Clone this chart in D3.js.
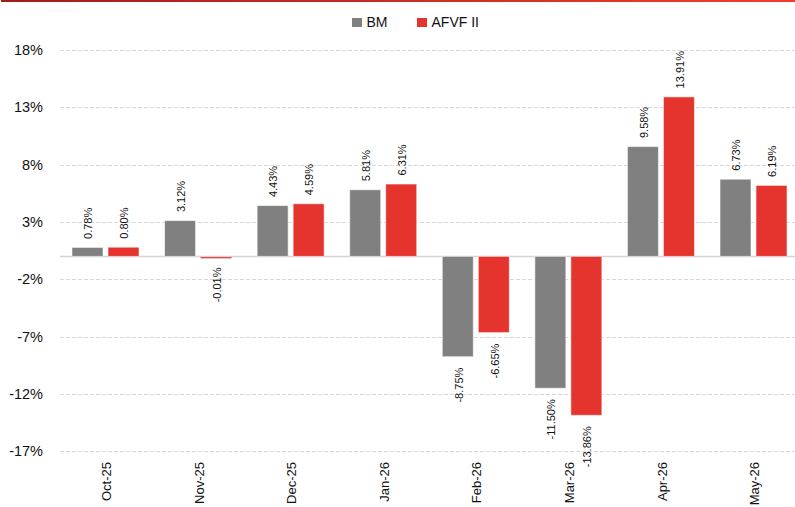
<!DOCTYPE html>
<html>
<head>
<meta charset="utf-8">
<script src="https://cdn.jsdelivr.net/npm/d3@7"></script>
<style>
  html, body { margin: 0; padding: 0; background: #fff; }
  svg { display: block; }
  text { font-family: "Liberation Sans", Arial, sans-serif; fill: #111; }
</style>
</head>
<body>
<svg id="chart" width="795" height="507"></svg>
<script>
// Monthly returns, BM vs AFVF II
const months = ["Oct-25", "Nov-25", "Dec-25", "Jan-26", "Feb-26", "Mar-26", "Apr-26", "May-26"];
const seriesNames = ["BM", "AFVF II"];
const bmValues = [0.78, 3.12, 4.43, 5.81, -8.75, -11.50, 9.58, 6.73];
const afvfValues = [0.80, -0.01, 4.59, 6.31, -6.65, -13.86, 13.91, 6.19];
const yTickValues = [18, 13, 8, 3, -2, -7, -12, -17];
const seriesColors = ["#808080", "#e5332d"];

const W = 795, H = 507;
const svg = d3.select("#chart");

// thin header stripe
const defs = svg.append("defs");
const grad = defs.append("linearGradient").attr("id", "stripe").attr("x1", "0%").attr("x2", "100%");
grad.append("stop").attr("offset", "0%").attr("stop-color", "#a11c1c");
grad.append("stop").attr("offset", "100%").attr("stop-color", "#f03d32");
svg.append("rect").attr("x", 1).attr("y", 0).attr("width", W - 1).attr("height", 2).attr("fill", "url(#stripe)");

const rows = months.map((m, i) => ({ month: m, values: [bmValues[i], afvfValues[i]] }));

const x0 = d3.scaleBand().domain(months).range([59.2, 799.8]).paddingInner(0).paddingOuter(0);
const groupW = 67;
const x1 = d3.scaleBand().domain(seriesNames)
  .range([x0.bandwidth() / 2 - groupW / 2, x0.bandwidth() / 2 + groupW / 2])
  .paddingInner(5 / 36);
const y = d3.scaleLinear().domain([-17, 18]).range([451.3, 50]);

// gridlines + y tick labels
const yAxis = d3.axisLeft(y).tickValues(yTickValues).tickFormat(d => d + "%").tickSize(0).tickPadding(0);
const yg = svg.append("g").attr("transform", "translate(43,0)").call(yAxis);
yg.select(".domain").remove();
yg.selectAll("text").attr("font-size", 14.5).attr("font-family", "Liberation Sans, Arial, sans-serif").attr("fill", "#111");

svg.append("g").selectAll("line").data(yTickValues).join("line")
  .attr("x1", 60).attr("x2", W)
  .attr("y1", d => Math.round(y(d)) + 0.5).attr("y2", d => Math.round(y(d)) + 0.5)
  .attr("stroke", "#d9d9d9").attr("stroke-width", 1).attr("stroke-dasharray", "4,2");

// zero baseline
svg.append("line").attr("x1", 60).attr("x2", W)
  .attr("y1", y(0)).attr("y2", y(0))
  .attr("stroke", "#d4d4d4").attr("stroke-width", 1.5);

// bars (near-zero values still get a hairline so they stay visible)
const groups = svg.append("g").selectAll("g").data(rows).join("g")
  .attr("transform", d => `translate(${x0(d.month)},0)`);

groups.selectAll("rect").data(d => d.values.map((v, i) => ({ key: seriesNames[i], v, i }))).join("rect")
  .attr("x", d => x1(d.key))
  .attr("width", x1.bandwidth())
  .attr("y", d => d.v >= 0 ? y(d.v) : y(0) + (Math.abs(y(d.v) - y(0)) < 1 ? 0.75 : 0))
  .attr("height", d => Math.max(1.2, Math.abs(y(d.v) - y(0))))
  .attr("fill", d => seriesColors[d.i])
  .attr("stroke", d => Math.abs(y(d.v) - y(0)) > 3 ? "rgba(255,255,255,0.55)" : "none")
  .attr("stroke-width", 1);

// value labels, rotated
groups.selectAll("text.val").data(d => d.values.map((v, i) => ({ key: seriesNames[i], v, i }))).join("text")
  .attr("class", "val")
  .attr("font-size", 11)
  .attr("text-anchor", d => d.v >= 0 ? "start" : "end")
  .attr("transform", d => {
    const cx = x1(d.key) + x1.bandwidth() / 2 + 1;
    const cy = d.v >= 0 ? y(d.v) - 8.5 : y(d.v) + 11;
    return `translate(${cx},${cy}) rotate(-90)`;
  })
  .attr("dy", "0.35em")
  .text(d => d.v.toFixed(2) + "%");

// category labels, rotated
svg.append("g").selectAll("text").data(months).join("text")
  .attr("font-size", 13)
  .attr("text-anchor", "end")
  .attr("transform", d => `translate(${x0(d) + x0.bandwidth() / 2 + 1},462) rotate(-90)`)
  .attr("dy", "0.35em")
  .text(d => d);

// legend
const legend = svg.append("g");
const legendItems = [
  { name: seriesNames[0], color: seriesColors[0], sx: 352, tx: 366.5 },
  { name: seriesNames[1], color: seriesColors[1], sx: 417, tx: 431.5 }
];
legendItems.forEach(it => {
  legend.append("rect").attr("x", it.sx).attr("y", 18).attr("width", 10).attr("height", 9).attr("fill", it.color);
  legend.append("text").attr("x", it.tx).attr("y", 22.5).attr("dy", "0.35em")
    .attr("font-size", 14).text(it.name);
});
</script>
</body>
</html>
